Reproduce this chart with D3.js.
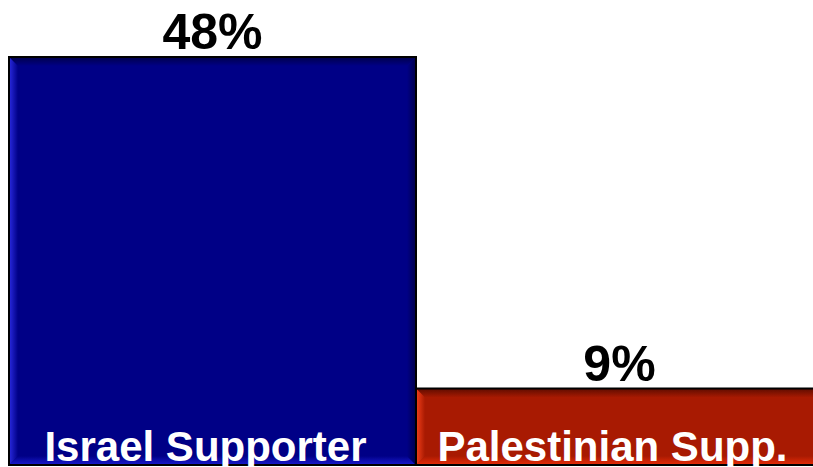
<!DOCTYPE html>
<html><head><meta charset="utf-8">
<script src="https://cdn.jsdelivr.net/npm/d3@7"></script>
<style>html,body{margin:0;padding:0;background:#fff;overflow:hidden}</style>
</head><body>
<svg id="c" width="813" height="467"></svg>
<script>
const categories = ["Israel Supporter", "Palestinian Supp."];
const values = [48, 9];
const valueLabels = ["48%", "9%"];

const palettes = [
  {base:"#000086", top:"#00004a", left:"#2a2ae0", right:"#00004a", bottom:"#1a1ad0"},
  {base:"#a81a02", top:"#5e0c00", left:"#f4401a", right:"#6a0e00", bottom:"#e82c08"}
];

const svg = d3.select("#c");
const x = d3.scaleBand().domain(categories).range([9, 823]).paddingInner(0).paddingOuter(0);
const y = d3.scaleLinear().domain([0, 48]).range([465, 57]);
const bev = 9;
const defs = svg.append("defs");

function grad(id, c1, c2, x1, y1, x2, y2){
  const g = defs.append("linearGradient").attr("id", id)
    .attr("x1", x1).attr("y1", y1).attr("x2", x2).attr("y2", y2);
  g.append("stop").attr("offset", "0%").attr("stop-color", c1);
  g.append("stop").attr("offset", "100%").attr("stop-color", c2);
}
palettes.forEach((p, i) => {
  grad("gt"+i, p.top, p.base, "0","0","0","1");
  grad("gl"+i, p.left, p.base, "0","0","1","0");
  grad("gr"+i, p.base, p.right, "0","0","1","0");
  grad("gb"+i, p.base, p.bottom, "0","0","0","1");
});

const bars = svg.selectAll("g.bar").data(categories).join("g").attr("class","bar");
bars.each(function(cat, i){
  const g = d3.select(this);
  const x0 = x(cat), x1 = x(cat) + x.bandwidth();
  const y0 = y(values[i]), y1 = y(0);
  const p = palettes[i];
  g.append("rect").attr("x", x0).attr("y", y0).attr("width", x1 - x0).attr("height", y1 - y0)
    .attr("fill", p.base);
  const poly = (pts, f) => g.append("polygon").attr("points", pts.map(d => d.join(",")).join(" ")).attr("fill", f);
  poly([[x0,y0],[x1,y0],[x1-bev,y0+bev],[x0+bev,y0+bev]], `url(#gt${i})`);
  poly([[x0,y1],[x1,y1],[x1-bev,y1-bev],[x0+bev,y1-bev]], `url(#gb${i})`);
  poly([[x0,y0],[x0+bev,y0+bev],[x0+bev,y1-bev],[x0,y1]], `url(#gl${i})`);
  poly([[x1,y0],[x1-bev,y0+bev],[x1-bev,y1-bev],[x1,y1]], `url(#gr${i})`);
  g.append("rect").attr("x", x0).attr("y", y0).attr("width", x1 - x0).attr("height", y1 - y0)
    .attr("fill", "none").attr("stroke", "#000").attr("stroke-width", 2);
  g.append("text").attr("x", (x0 + x1) / 2).attr("y", y0 - 8)
    .attr("text-anchor", "middle")
    .attr("font-family", "'Liberation Sans', Arial, sans-serif")
    .attr("font-weight", "bold").attr("font-size", 50).attr("fill", "#000")
    .text(valueLabels[i]);
  g.append("text").attr("x", (x0 + x1) / 2 - 7).attr("y", 461)
    .attr("text-anchor", "middle")
    .attr("font-family", "'Liberation Sans', Arial, sans-serif")
    .attr("font-weight", "bold").attr("font-size", 42).attr("fill", "#fff")
    .text(cat);
});
</script>
</body></html>
